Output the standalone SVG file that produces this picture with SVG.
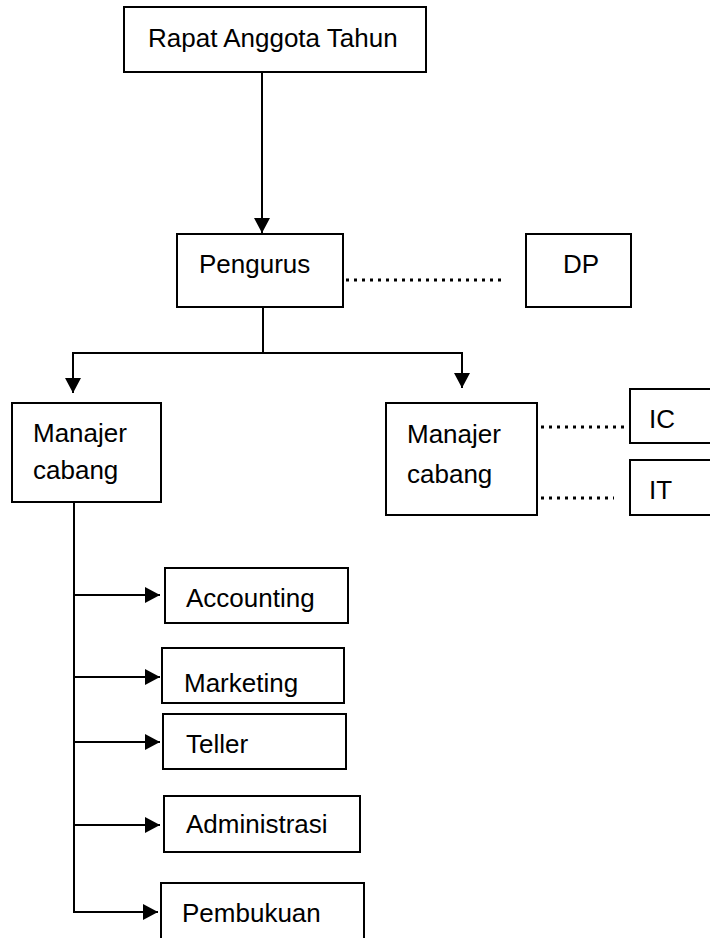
<svg xmlns="http://www.w3.org/2000/svg" width="710" height="938" viewBox="0 0 710 938">
<style>
.box{fill:#fff;stroke:#000;stroke-width:2}
.t{font-family:"Liberation Sans",Arial,sans-serif;font-size:26px;fill:#000}
.ln{fill:none;stroke:#000;stroke-width:2}
.dot{fill:none;stroke:#000;stroke-width:3;stroke-dasharray:3 5}
</style>
<defs>
<marker id="ah" markerUnits="userSpaceOnUse" markerWidth="16" markerHeight="16" viewBox="0 0 16 16" refX="15" refY="8" orient="auto">
<path d="M0,0 L15,8 L0,16 Z" fill="#000"/>
</marker>
</defs>
<rect width="710" height="938" fill="#fff"/>
<g id="connectors">
<line class="ln" x1="262" y1="72" x2="262" y2="233" marker-end="url(#ah)"/>
<line class="dot" x1="346" y1="280" x2="506" y2="280"/>
<polyline class="ln" points="263,307 263,353"/>
<polyline class="ln" points="263,353 73,353 73,393" marker-end="url(#ah)"/>
<polyline class="ln" points="263,353 462,353 462,388" marker-end="url(#ah)"/>
<line class="dot" x1="541" y1="427" x2="627" y2="427"/>
<line class="dot" x1="541" y1="498" x2="614" y2="498"/>
<polyline class="ln" points="74,502 74,912"/>
<line class="ln" x1="74" y1="595" x2="160" y2="595" marker-end="url(#ah)"/>
<line class="ln" x1="74" y1="677" x2="160" y2="677" marker-end="url(#ah)"/>
<line class="ln" x1="74" y1="742" x2="160" y2="742" marker-end="url(#ah)"/>
<line class="ln" x1="74" y1="825" x2="160" y2="825" marker-end="url(#ah)"/>
<line class="ln" x1="73" y1="912" x2="158" y2="912" marker-end="url(#ah)"/>
</g>
<g id="rapat"><rect class="box" x="124" y="7" width="302" height="65"/><text class="t" x="148" y="47">Rapat Anggota Tahun</text></g>
<g id="pengurus"><rect class="box" x="177" y="234" width="166" height="73"/><text class="t" x="199" y="273">Pengurus</text></g>
<g id="dp"><rect class="box" x="526" y="234" width="105" height="73"/><text class="t" x="563" y="273">DP</text></g>
<g id="manajer1"><rect class="box" x="12" y="403" width="149" height="99"/><text class="t" x="33" y="442">Manajer</text><text class="t" x="33" y="479">cabang</text></g>
<g id="manajer2"><rect class="box" x="386" y="403" width="151" height="112"/><text class="t" x="407" y="443">Manajer</text><text class="t" x="407" y="483">cabang</text></g>
<g id="ic"><rect class="box" x="630" y="389" width="90" height="54"/><text class="t" x="649" y="428">IC</text></g>
<g id="it"><rect class="box" x="630" y="460" width="90" height="55"/><text class="t" x="649" y="499">IT</text></g>
<g id="accounting"><rect class="box" x="165" y="568" width="183" height="55"/><text class="t" x="186" y="607">Accounting</text></g>
<g id="marketing"><rect class="box" x="162" y="648" width="182" height="55"/><text class="t" x="184" y="692">Marketing</text></g>
<g id="teller"><rect class="box" x="163" y="714" width="183" height="55"/><text class="t" x="186" y="753">Teller</text></g>
<g id="administrasi"><rect class="box" x="164" y="796" width="196" height="56"/><text class="t" x="186" y="833">Administrasi</text></g>
<g id="pembukuan"><rect class="box" x="161" y="883" width="203" height="70"/><text class="t" x="182" y="922">Pembukuan</text></g>
</svg>
